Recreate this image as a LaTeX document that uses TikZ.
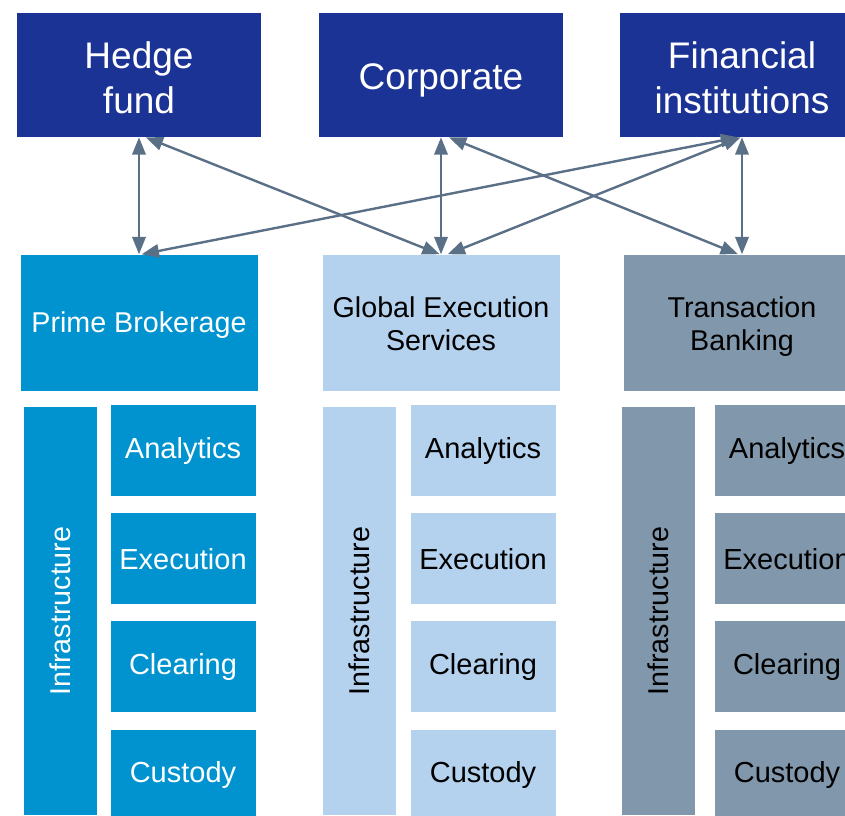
\documentclass[tikz,border=0pt]{standalone}
\usepackage{fontspec}
\setmainfont{Liberation Sans}
\usepackage{xcolor}
\usetikzlibrary{positioning,arrows.meta}
\definecolor{navy}{HTML}{1B3394}
\definecolor{primeblue}{HTML}{0093D0}
\definecolor{execblue}{HTML}{B4D1EE}
\definecolor{bankgrey}{HTML}{8197AB}
\definecolor{linkgrey}{HTML}{5A7087}
\newcommand{\lowered}[2][3pt]{\raisebox{-#1}[\height][\depth]{\begin{tabular}{@{}c@{}}#2\end{tabular}}}
\tikzset{
  link/.style={>={Triangle[length=13pt, width=10pt]}, <->, line width=1.8pt, draw=linkgrey},
  every node/.style={anchor=center}
}

\begin{document}
\begin{tikzpicture}[
  x=0.75pt, y=-0.75pt,
  client/.style={fill=navy, text=white, minimum width=183pt, minimum height=93pt, inner sep=0pt, align=center, font=\fontsize{27.75}{33.75}\selectfont},
  desk/.style={minimum width=177.75pt, minimum height=102pt, inner sep=0pt, align=center, font=\fontsize{21.5}{24.5}\selectfont},
  infra/.style={rotate=90, minimum width=306pt, minimum height=54.75pt, inner sep=0pt, font=\fontsize{21.5}{24.5}\selectfont},
  service/.style={anchor=north west, minimum width=108.75pt, minimum height=68.25pt, inner sep=0pt, font=\fontsize{21.75}{24.5}\selectfont},
  below stack/.style={below=12.5pt of #1}
]
\clip (0,0) rectangle (845,815);
% clients
\node[client] (hedge) at (139,75) {\lowered[5pt]{Hedge\\fund}};
\node[client] (corp) at (441,75) {\lowered[3.75pt]{Corporate}};
\node[client] (fin) at (742,75) {\lowered[5pt]{Financial\\institutions}};
% business lines
\node[desk, fill=primeblue, text=white, below=87.75pt of hedge] (pb) {\lowered[2.25pt]{Prime Brokerage}};
\node[desk, fill=execblue, below=87.75pt of corp] (ges) {\lowered[3.75pt]{Global Execution\\Services}};
\node[desk, fill=bankgrey, below=87.75pt of fin] (tb) {\lowered[3.75pt]{Transaction\\Banking}};
% prime brokerage stack
\node[infra, fill=primeblue, text=white] (infraA) at (60.5,611) {Infrastructure};
\node[service, fill=primeblue, text=white, below right=10.5pt and 67.5pt of pb.south west] (anaA) {Analytics};
\node[service, fill=primeblue, text=white, below stack=anaA] (exeA) {Execution};
\node[service, fill=primeblue, text=white, below stack=exeA] (clrA) {Clearing};
\node[service, fill=primeblue, text=white, below stack=clrA] (cusA) {Custody};
% execution services stack
\node[infra, fill=execblue] (infraB) at (359.5,611) {Infrastructure};
\node[service, fill=execblue, below right=10.5pt and 66pt of ges.south west] (anaB) {Analytics};
\node[service, fill=execblue, below stack=anaB] (exeB) {Execution};
\node[service, fill=execblue, below stack=exeB] (clrB) {Clearing};
\node[service, fill=execblue, below stack=clrB] (cusB) {Custody};
% transaction banking stack
\node[infra, fill=bankgrey] (infraC) at (658.5,611) {Infrastructure};
\node[service, fill=bankgrey, below right=10.5pt and 68.25pt of tb.south west] (anaC) {Analytics};
\node[service, fill=bankgrey, below stack=anaC] (exeC) {Execution};
\node[service, fill=bankgrey, below stack=exeC] (clrC) {Clearing};
\node[service, fill=bankgrey, below stack=clrC] (cusC) {Custody};
% links
\draw[link] (hedge.south) -- (pb.north);
\draw[link] ([xshift=5pt]hedge.south) -- ([xshift=-1pt]ges.north);
\draw[link] (corp.south) -- (ges.north);
\draw[link] ([xshift=6pt]corp.south) -- ([xshift=-3pt]tb.north);
\draw[link] (fin.south) -- (tb.north);
\draw[link] ([xshift=-3pt]fin.south) -- ([xshift=2pt]pb.north);
\draw[link] ([xshift=-1pt]fin.south) -- ([xshift=5pt]ges.north);
\end{tikzpicture}
\end{document}
